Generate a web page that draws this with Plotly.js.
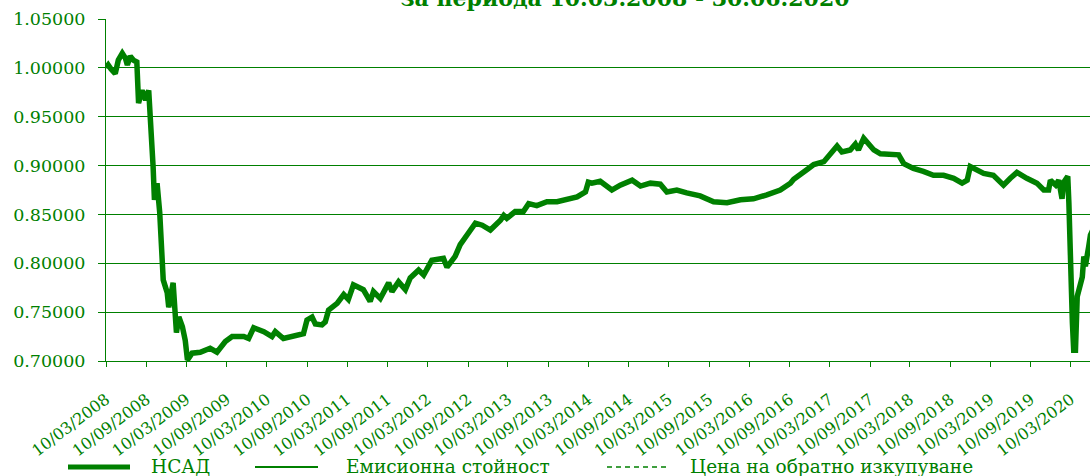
<!DOCTYPE html>
<html><head><meta charset="utf-8">
<script src="https://cdn.plot.ly/plotly-3.0.1.min.js"></script>
<style>html,body{margin:0;padding:0;background:#fff;} #chart{width:1090px;height:476px;}</style>
</head><body><div id="chart"></div>
<script>
const titleText = 'за периода 10.03.2008 - 30.06.2020';
const seriesNames = ['НСАД', 'Емисионна стойност', 'Цена на обратно изкупуване'];
const tickLabels = ['10/03/2008','10/09/2008','10/03/2009','10/09/2009','10/03/2010','10/09/2010','10/03/2011','10/09/2011','10/03/2012','10/09/2012','10/03/2013','10/09/2013','10/03/2014','10/09/2014','10/03/2015','10/09/2015','10/03/2016','10/09/2016','10/03/2017','10/09/2017','10/03/2018','10/09/2018','10/03/2019','10/09/2019','10/03/2020'];
const yTicks = [0.70, 0.75, 0.80, 0.85, 0.90, 0.95, 1.00, 1.05];

const dates = ['2008-03-10','2008-03-20','2008-04-01','2008-04-12','2008-04-21','2008-05-05','2008-05-23','2008-06-06','2008-06-15','2008-06-28','2008-07-12','2008-07-28','2008-08-01','2008-08-05','2008-08-21','2008-09-06','2008-09-20','2008-09-28','2008-10-05','2008-10-10','2008-10-16','2008-10-28','2008-11-09','2008-11-20','2008-11-25','2008-12-13','2008-12-20','2009-01-09','2009-01-15','2009-01-24','2009-02-04','2009-02-20','2009-03-05','2009-03-15','2009-04-05','2009-05-12','2009-06-26','2009-07-27','2009-09-03','2009-10-04','2009-11-26','2009-12-18','2010-01-10','2010-02-25','2010-04-03','2010-04-18','2010-05-25','2010-07-09','2010-08-24','2010-09-09','2010-10-02','2010-10-17','2010-11-16','2010-12-01','2010-12-16','2011-01-24','2011-02-23','2011-03-16','2011-04-08','2011-05-23','2011-06-23','2011-07-08','2011-08-08','2011-09-15','2011-09-30','2011-10-30','2011-11-30','2011-12-22','2012-01-29','2012-02-21','2012-03-29','2012-05-21','2012-06-06','2012-07-13','2012-08-05','2012-09-05','2012-10-13','2012-11-13','2012-12-20','2013-02-04','2013-02-19','2013-03-05','2013-04-12','2013-05-19','2013-06-12','2013-07-19','2013-09-03','2013-10-19','2013-12-04','2014-01-18','2014-02-25','2014-03-10','2014-03-26','2014-05-03','2014-06-25','2014-08-02','2014-09-25','2014-11-02','2014-12-17','2015-01-31','2015-03-02','2015-04-16','2015-05-31','2015-07-31','2015-09-30','2015-11-30','2016-01-30','2016-03-29','2016-05-29','2016-07-29','2016-09-13','2016-09-28','2016-11-28','2016-12-28','2017-02-12','2017-03-13','2017-04-13','2017-05-05','2017-06-12','2017-07-05','2017-07-19','2017-08-12','2017-09-04','2017-09-27','2017-10-27','2017-12-11','2018-01-18','2018-02-10','2018-03-26','2018-05-10','2018-06-25','2018-08-10','2018-09-25','2018-11-02','2018-11-25','2018-12-09','2019-01-09','2019-02-08','2019-03-24','2019-05-09','2019-06-09','2019-07-09','2019-08-23','2019-10-08','2019-11-08','2019-11-30','2019-12-08','2020-01-01','2020-01-15','2020-01-30','2020-02-07','2020-02-25','2020-03-01','2020-03-04','2020-03-09','2020-03-13','2020-03-17','2020-03-23','2020-03-31','2020-04-08','2020-04-16','2020-05-01','2020-05-08','2020-05-15','2020-05-30','2020-06-07','2020-06-30'];
const nav = [1.000,1.003,0.999,0.997,0.994,1.008,1.015,1.010,1.003,1.012,1.008,1.006,0.985,0.964,0.977,0.967,0.977,0.947,0.933,0.899,0.865,0.882,0.852,0.817,0.783,0.770,0.755,0.780,0.749,0.729,0.745,0.735,0.721,0.701,0.708,0.709,0.713,0.709,0.720,0.725,0.725,0.723,0.734,0.730,0.725,0.730,0.723,0.726,0.728,0.742,0.745,0.738,0.737,0.740,0.752,0.759,0.768,0.763,0.778,0.773,0.761,0.771,0.764,0.780,0.771,0.781,0.773,0.785,0.793,0.788,0.803,0.805,0.796,0.807,0.819,0.829,0.841,0.839,0.834,0.844,0.849,0.846,0.853,0.853,0.861,0.859,0.863,0.863,0.865,0.868,0.873,0.883,0.882,0.884,0.875,0.880,0.885,0.879,0.882,0.881,0.873,0.875,0.872,0.869,0.863,0.862,0.865,0.866,0.870,0.875,0.882,0.886,0.896,0.901,0.904,0.912,0.920,0.914,0.916,0.922,0.916,0.928,0.921,0.916,0.912,0.912,0.911,0.902,0.897,0.894,0.890,0.890,0.887,0.882,0.885,0.899,0.895,0.892,0.890,0.880,0.887,0.893,0.887,0.882,0.875,0.875,0.885,0.880,0.885,0.866,0.883,0.889,0.862,0.829,0.790,0.760,0.739,0.711,0.711,0.766,0.773,0.786,0.807,0.797,0.817,0.829,0.840];
// Emission value and redemption price coincide with the NAV line in the reference (hidden beneath it)
const emission = nav;
const redemption = nav;

const GREEN = '#008000';
const FONT = 'DejaVu Serif';
const tickVals = tickLabels.map(s => { const p = s.split('/'); return p[2] + '-' + p[1] + '-' + p[0]; });

const traces = [
  {x: dates, y: redemption, type: 'scatter', mode: 'lines', name: seriesNames[2], line: {color: GREEN, width: 1.5, dash: '5px,4px'}, showlegend: false},
  {x: dates, y: emission, type: 'scatter', mode: 'lines', name: seriesNames[1], line: {color: GREEN, width: 2}, showlegend: false},
  {x: dates, y: nav, type: 'scatter', mode: 'lines', name: seriesNames[0], line: {color: GREEN, width: 5.5}, showlegend: false}
];

// manual legend (paper coords derived from plot-area size)
const L = 106, W = 984, B = 361, H = 342;
const px = v => (v - L) / W, py = v => (B - v) / H;
const legY = 467;
const shapes = [
  {type: 'line', xref: 'paper', yref: 'paper', x0: px(68), x1: px(130), y0: py(legY), y1: py(legY), line: {color: GREEN, width: 5}},
  {type: 'line', xref: 'paper', yref: 'paper', x0: px(255), x1: px(318), y0: py(legY), y1: py(legY), line: {color: GREEN, width: 2}},
  {type: 'line', xref: 'paper', yref: 'paper', x0: px(607), x1: px(668), y0: py(legY), y1: py(legY), line: {color: GREEN, width: 1.5, dash: '5px,4px'}}
];
const legFont = {family: FONT, size: 18.5, color: GREEN};
const annotations = [
  {text: seriesNames[0], xref: 'paper', yref: 'paper', x: px(149), y: py(466), xanchor: 'left', yanchor: 'middle', showarrow: false, font: legFont},
  {text: seriesNames[1], xref: 'paper', yref: 'paper', x: px(344), y: py(466), xanchor: 'left', yanchor: 'middle', showarrow: false, font: legFont},
  {text: seriesNames[2], xref: 'paper', yref: 'paper', x: px(688), y: py(466), xanchor: 'left', yanchor: 'middle', showarrow: false, font: legFont}
];

const layout = {
  width: 1090, height: 476,
  margin: {l: L, r: 1090 - L - W, t: 19, b: 476 - B},
  paper_bgcolor: '#ffffff', plot_bgcolor: '#ffffff',
  showlegend: false,
  title: {text: titleText, font: {family: FONT, size: 22, color: GREEN, weight: 'bold'}, x: 625 / 1090, xanchor: 'center', xref: 'container', yref: 'container', y: 1 - 6 / 476, yanchor: 'bottom'},
  xaxis: {
    type: 'date', range: ['2008-03-10', '2020-06-05'],
    tickmode: 'array', tickvals: tickVals, ticktext: tickLabels, tickangle: -37,
    tickfont: {family: FONT, size: 16, color: GREEN},
    showline: true, linecolor: GREEN, linewidth: 1,
    ticks: 'outside', ticklen: 5, tickcolor: GREEN, tickwidth: 1,
    showgrid: false, zeroline: false, ticklabelstandoff: 17
  },
  yaxis: {
    range: [0.70, 1.05], tickmode: 'array', tickvals: yTicks, tickformat: '.5f',
    tickfont: {family: FONT, size: 17.5, color: GREEN},
    showline: true, linecolor: GREEN, linewidth: 1,
    ticks: 'outside', ticklen: 7, tickcolor: GREEN, tickwidth: 1,
    showgrid: true, gridcolor: GREEN, gridwidth: 1, zeroline: false, ticklabelstandoff: 9
  },
  shapes: shapes,
  annotations: annotations
};

Plotly.newPlot('chart', traces, layout, {displayModeBar: false, staticPlot: true});
</script></body></html>
